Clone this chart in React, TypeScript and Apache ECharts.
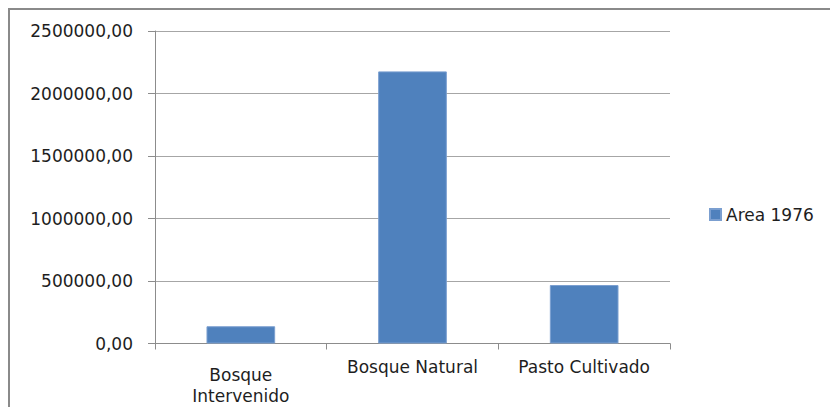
import React, { useEffect, useRef } from "react";
import * as echarts from "echarts";

const categories = ["Bosque Intervenido", "Bosque Natural", "Pasto Cultivado"];
const categoryLabels = ["{s|}\nBosque\nIntervenido", "Bosque Natural", "Pasto Cultivado"];
const seriesName = "Area 1976";
const area1976 = [138000, 2177000, 468000];
const yMin = 0;
const yMax = 2500000;
const yInterval = 500000;

export default function App() {
  const ref = useRef<HTMLDivElement>(null);
  useEffect(() => {
    if (!ref.current) return;
    const chart = echarts.init(ref.current, null, { renderer: "svg" });
    const font = "DejaVu Sans";
    chart.setOption({
      animation: false,
      backgroundColor: "#ffffff",
      textStyle: { fontFamily: font },
      graphic: [
        {
          type: "rect",
          shape: { x: 9, y: 9, width: 900, height: 500 },
          style: { fill: "none", stroke: "#8a8a8a", lineWidth: 2 },
          silent: true,
        },
      ],
      grid: { left: 155, right: 160, top: 31, bottom: 63.5, containLabel: false },
      legend: {
        data: [seriesName],
        left: 704,
        top: 201,
        itemWidth: 11,
        itemHeight: 11,
        icon: "rect",
        textStyle: { fontFamily: font, fontSize: 17, color: "#1e1e1e" },
        itemGap: 5,
      },
      xAxis: {
        type: "category",
        data: categories,
        axisLine: { show: true, lineStyle: { color: "#8c8c8c", width: 1 } },
        axisTick: { show: true, length: 6, alignWithLabel: false, lineStyle: { color: "#8c8c8c" } },
        axisLabel: {
          interval: 0,
          margin: 13,
          fontFamily: font,
          fontSize: 17,
          color: "#1e1e1e",
          lineHeight: 21,
          formatter: (_v: string, i: number) => categoryLabels[i],
          rich: { s: { lineHeight: 8, fontSize: 1 } },
        },
      },
      yAxis: {
        type: "value",
        min: yMin,
        max: yMax,
        interval: yInterval,
        axisLine: { show: true, lineStyle: { color: "#8c8c8c", width: 1 } },
        axisTick: { show: true, length: 7, lineStyle: { color: "#8c8c8c" } },
        splitLine: { show: true, lineStyle: { color: "#a6a6a6", width: 1 } },
        axisLabel: {
          margin: 22,
          fontFamily: font,
          fontSize: 17,
          color: "#1e1e1e",
          formatter: (v: number) => v.toFixed(2).replace(".", ","),
        },
      },
      series: [
        {
          name: seriesName,
          type: "bar",
          data: area1976,
          barWidth: "40%",
          itemStyle: { color: "#4f81bd", borderColor: "#7b9fd0", borderWidth: 1 },
        },
      ],
    });
    return () => chart.dispose();
  }, []);
  return (
    <div
      ref={ref}
      style={{ position: "absolute", left: 0, top: 0, width: 830, height: 407 }}
    />
  );
}
